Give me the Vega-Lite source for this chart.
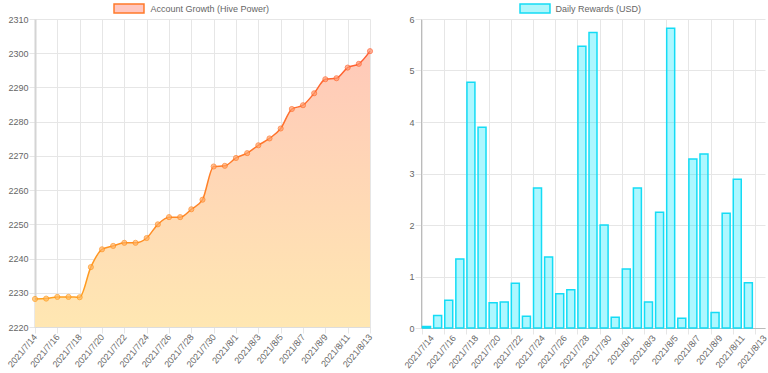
{
  "$schema": "https://vega.github.io/schema/vega-lite/v6.json",
  "background": "white",
  "padding": {"left": 6, "top": 3, "right": 4, "bottom": 2},
  "config": {
    "view": {"stroke": null},
    "font": "Liberation Sans",
    "axis": {
      "labelFont": "Liberation Sans",
      "labelFontSize": 9,
      "labelColor": "#666666",
      "gridColor": "#e6e6e6",
      "tickColor": "#e6e6e6",
      "tickSize": 6,
      "labelPadding": 1,
      "title": null
    },
    "legend": {"labelFont": "Liberation Sans", "labelFontSize": 9, "labelColor": "#666666"}
  },
  "datasets": {
    "days": [
      {"date": "2021/7/14", "hp": 2228.2, "usd": 0.03},
      {"date": "2021/7/15", "hp": 2228.3, "usd": 0.245},
      {"date": "2021/7/16", "hp": 2228.8, "usd": 0.54},
      {"date": "2021/7/17", "hp": 2228.8, "usd": 1.34},
      {"date": "2021/7/18", "hp": 2228.7, "usd": 4.77},
      {"date": "2021/7/19", "hp": 2237.5, "usd": 3.9},
      {"date": "2021/7/20", "hp": 2242.7, "usd": 0.49},
      {"date": "2021/7/21", "hp": 2243.7, "usd": 0.505},
      {"date": "2021/7/22", "hp": 2244.6, "usd": 0.87},
      {"date": "2021/7/23", "hp": 2244.6, "usd": 0.23},
      {"date": "2021/7/24", "hp": 2246.0, "usd": 2.72},
      {"date": "2021/7/25", "hp": 2250.0, "usd": 1.38},
      {"date": "2021/7/26", "hp": 2252.1, "usd": 0.666},
      {"date": "2021/7/27", "hp": 2252.1, "usd": 0.744},
      {"date": "2021/7/28", "hp": 2254.4, "usd": 5.47},
      {"date": "2021/7/29", "hp": 2257.2, "usd": 5.74},
      {"date": "2021/7/30", "hp": 2266.9, "usd": 2.0},
      {"date": "2021/7/31", "hp": 2267.1, "usd": 0.21},
      {"date": "2021/8/1", "hp": 2269.4, "usd": 1.145},
      {"date": "2021/8/2", "hp": 2270.8, "usd": 2.72},
      {"date": "2021/8/3", "hp": 2273.1, "usd": 0.505},
      {"date": "2021/8/4", "hp": 2275.1, "usd": 2.25},
      {"date": "2021/8/5", "hp": 2278.0, "usd": 5.82},
      {"date": "2021/8/6", "hp": 2283.7, "usd": 0.19},
      {"date": "2021/8/7", "hp": 2284.8, "usd": 3.28},
      {"date": "2021/8/8", "hp": 2288.3, "usd": 3.38},
      {"date": "2021/8/9", "hp": 2292.4, "usd": 0.3},
      {"date": "2021/8/10", "hp": 2292.7, "usd": 2.23},
      {"date": "2021/8/11", "hp": 2295.8, "usd": 2.89},
      {"date": "2021/8/12", "hp": 2296.9, "usd": 0.88},
      {"date": "2021/8/13", "hp": 2300.6, "usd": null}
    ]
  },
  "data": {"name": "days"},
  "spacing": 27,
  "hconcat": [
    {
      "width": 335,
      "height": 308,
      "encoding": {
        "x": {
          "field": "date",
          "type": "ordinal",
          "sort": null,
          "scale": {
            "type": "point",
            "padding": 0,
            "domain": ["2021/7/14","2021/7/15","2021/7/16","2021/7/17","2021/7/18","2021/7/19","2021/7/20","2021/7/21","2021/7/22","2021/7/23","2021/7/24","2021/7/25","2021/7/26","2021/7/27","2021/7/28","2021/7/29","2021/7/30","2021/7/31","2021/8/1","2021/8/2","2021/8/3","2021/8/4","2021/8/5","2021/8/6","2021/8/7","2021/8/8","2021/8/9","2021/8/10","2021/8/11","2021/8/12","2021/8/13"]
          },
          "axis": {
            "values": ["2021/7/14","2021/7/16","2021/7/18","2021/7/20","2021/7/22","2021/7/24","2021/7/26","2021/7/28","2021/7/30","2021/8/1","2021/8/3","2021/8/5","2021/8/7","2021/8/9","2021/8/11","2021/8/13"],
            "labelAngle": -50,
            "grid": true,
            "domainColor": "#dddddd",
            "labelPadding": 2
          }
        },
        "y": {
          "field": "hp",
          "type": "quantitative",
          "scale": {"domain": [2220, 2310], "zero": false},
          "axis": {
            "values": [2220, 2230, 2240, 2250, 2260, 2270, 2280, 2290, 2300, 2310],
            "format": "d",
            "domainColor": "#d4d4d4",
            "domainWidth": 2,
            "grid": true
          }
        }
      },
      "layer": [
        {
          "mark": {
            "type": "area",
            "interpolate": "monotone",
            "fill": {
              "gradient": "linear",
              "x1": 0, "y1": 0, "x2": 0, "y2": 1,
              "stops": [
                {"offset": 0, "color": "#ffc9b9"},
                {"offset": 1, "color": "#ffe7b2"}
              ]
            }
          },
          "encoding": {"y2": {"datum": 2220}}
        },
        {
          "mark": {
            "type": "line",
            "interpolate": "monotone",
            "strokeWidth": 1.5,
            "stroke": {
              "gradient": "linear",
              "x1": 0, "y1": 1, "x2": 1, "y2": 0,
              "stops": [
                {"offset": 0, "color": "#ffa21f"},
                {"offset": 1, "color": "#ff5e33"}
              ]
            }
          },
          "encoding": {
            "color": {
              "datum": "Account Growth (Hive Power)",
              "scale": {"range": ["#ff7a2a"]},
              "legend": {
                "orient": "none",
                "legendX": 88.5,
                "legendY": -16,
                "title": null,
                "padding": 0,
                "symbolSize": 81,
                "symbolType": "M-3.33,-1L3.33,-1L3.33,1L-3.33,1Z",
                "labelOffset": 16,
                "encode": {
                  "symbols": {
                    "update": {
                      "shape": {"value": "M-3.33,-1L3.33,-1L3.33,1L-3.33,1Z"},
                      "size": {"value": 81},
                      "fill": {"value": "#ffc7c0"},
                      "stroke": {"value": "#ff4a3a"},
                      "strokeWidth": {"value": 1.5},
                      "opacity": {"value": 1},
                      "fillOpacity": {"value": 1},
                      "strokeOpacity": {"value": 1}
                    }
                  }
                }
              }
            }
          }
        },
        {
          "mark": {"type": "circle", "size": 26, "strokeWidth": 1},
          "encoding": {
            "stroke": {
              "field": "hp",
              "type": "quantitative",
              "scale": {"domain": [2225, 2300], "range": ["#ff9a10", "#ff5a2a"]},
              "legend": null
            },
            "fill": {
              "field": "hp",
              "type": "quantitative",
              "scale": {"domain": [2225, 2300], "range": ["#ffbb5c", "#ff9470"]},
              "legend": null
            }
          }
        }
      ]
    },
    {
      "width": 344,
      "height": 309,
      "mark": {"type": "bar", "fill": "rgba(0,230,255,0.32)", "stroke": "#14dcf5", "strokeWidth": 1.5},
      "encoding": {
        "x": {
          "field": "date",
          "type": "ordinal",
          "sort": null,
          "scale": {
            "type": "band",
            "paddingInner": 0.28,
            "paddingOuter": 0.14,
            "domain": ["2021/7/14","2021/7/15","2021/7/16","2021/7/17","2021/7/18","2021/7/19","2021/7/20","2021/7/21","2021/7/22","2021/7/23","2021/7/24","2021/7/25","2021/7/26","2021/7/27","2021/7/28","2021/7/29","2021/7/30","2021/7/31","2021/8/1","2021/8/2","2021/8/3","2021/8/4","2021/8/5","2021/8/6","2021/8/7","2021/8/8","2021/8/9","2021/8/10","2021/8/11","2021/8/12","2021/8/13"]
          },
          "axis": {
            "values": ["2021/7/14","2021/7/16","2021/7/18","2021/7/20","2021/7/22","2021/7/24","2021/7/26","2021/7/28","2021/7/30","2021/8/1","2021/8/3","2021/8/5","2021/8/7","2021/8/9","2021/8/11","2021/8/13"],
            "labelAngle": -50,
            "bandPosition": 0,
            "labelOffset": 5.55,
            "grid": true,
            "domainColor": "#bbbbbb",
            "labelPadding": 2
          }
        },
        "y": {
          "field": "usd",
          "type": "quantitative",
          "scale": {"domain": [0, 6]},
          "axis": {
            "values": [0, 1, 2, 3, 4, 5, 6],
            "domainColor": "#bbbbbb",
            "grid": true
          }
        },
        "color": {
          "datum": "Daily Rewards (USD)",
          "scale": {"range": ["#aef6fb"]},
          "legend": {
            "orient": "none",
            "legendX": 108.5,
            "legendY": -16,
            "title": null,
            "padding": 0,
            "symbolSize": 81,
            "symbolType": "M-3.33,-1L3.33,-1L3.33,1L-3.33,1Z",
            "labelOffset": 15,
            "encode": {
              "symbols": {
                "update": {
                  "shape": {"value": "M-3.33,-1L3.33,-1L3.33,1L-3.33,1Z"},
                  "size": {"value": 81},
                  "fill": {"value": "#b2ffff"},
                  "stroke": {"value": "#00f0f0"},
                  "strokeWidth": {"value": 1.5},
                  "opacity": {"value": 1},
                  "fillOpacity": {"value": 1},
                  "strokeOpacity": {"value": 1}
                }
              }
            }
          }
        }
      }
    }
  ],
  "resolve": {"scale": {"color": "independent", "x": "independent", "y": "independent"}, "legend": {"color": "independent"}}
}
